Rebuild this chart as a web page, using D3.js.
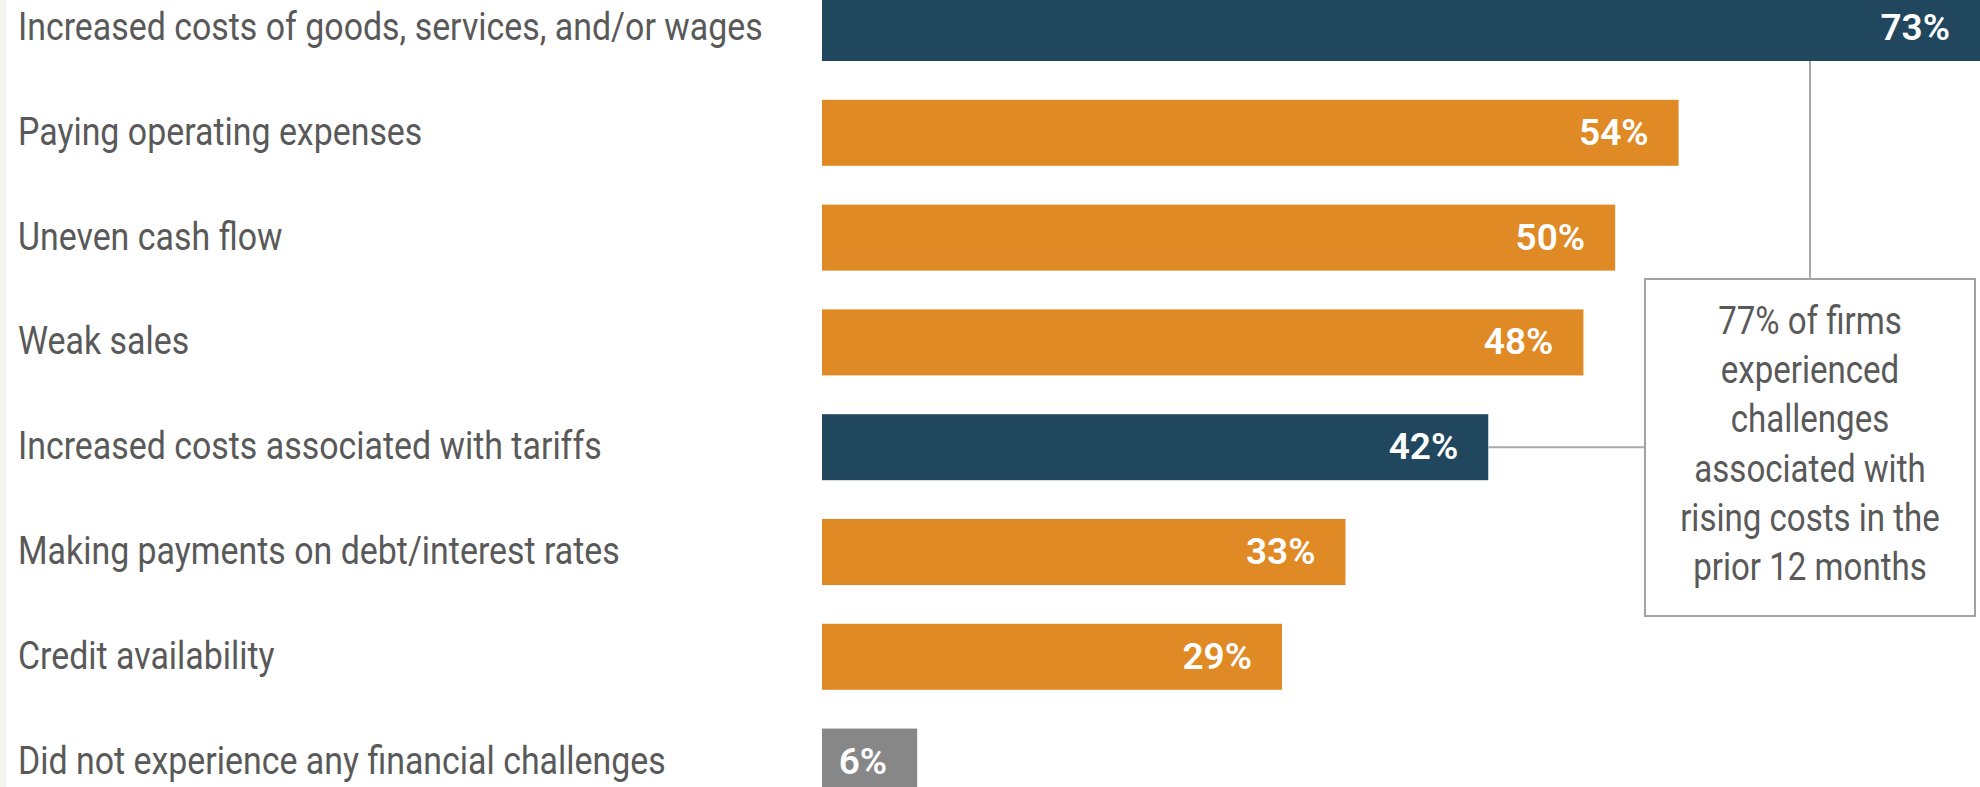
<!DOCTYPE html>
<html>
<head>
<meta charset="utf-8">
<script src="https://cdn.jsdelivr.net/npm/d3@7"></script>
<style>
  html, body { margin: 0; padding: 0; background: #ffffff; }
  svg { display: block; }
</style>
</head>
<body>
<svg id="chart" width="1980" height="787"></svg>
<script>
// Financial challenges reported by firms (share of respondents, %)
const categories = [
  "Increased costs of goods, services, and/or wages",
  "Paying operating expenses",
  "Uneven cash flow",
  "Weak sales",
  "Increased costs associated with tariffs",
  "Making payments on debt/interest rates",
  "Credit availability",
  "Did not experience any financial challenges"
];
const values = [73, 54, 50, 48, 42, 33, 29, 6];
// cost-related challenges are highlighted
const groups = ["cost", "other", "other", "other", "cost", "other", "other", "none"];
const noteLines = [
  "77% of firms",
  "experienced",
  "challenges",
  "associated with",
  "rising costs in the",
  "prior 12 months"
];

const W = 1980, H = 787;
const svg = d3.select("#chart");

const color = d3.scaleOrdinal()
  .domain(["cost", "other", "none"])
  .range(["#20475e", "#e08a26", "#878787"]);

const x = d3.scaleLinear()
  .domain([0, d3.max(values)])
  .range([822, W]);

const y = d3.scaleBand()
  .domain(categories)
  .range([-5, 794.6])
  .paddingInner(0.37)
  .paddingOuter(0);

const bw = y.bandwidth();
const rows = categories.map((c, i) => ({ c, v: values[i], g: groups[i] }));

// thin tinted strip along the left edge
svg.append("rect")
  .attr("x", 0).attr("y", 0)
  .attr("width", 6).attr("height", H)
  .attr("fill", "#f7f5ef");

// category labels (condensed)
svg.append("g")
  .selectAll("g")
  .data(rows)
  .join("g")
  .attr("transform", d => `translate(18,${y(d.c) + bw / 2 + 12}) scale(0.892,1)`)
  .append("text")
  .attr("font-family", "Roboto, 'Noto Sans', sans-serif")
  .attr("font-size", 38)
  .attr("fill", "#595959")
  .text(d => d.c);

// bars
svg.append("g")
  .selectAll("rect")
  .data(rows)
  .join("rect")
  .attr("x", x(0))
  .attr("y", d => y(d.c))
  .attr("width", d => x(d.v) - x(0))
  .attr("height", bw)
  .attr("fill", d => color(d.g));

// value labels inside bar ends
svg.append("g")
  .selectAll("text")
  .data(rows)
  .join("text")
  .attr("x", d => x(d.v) - 30)
  .attr("y", d => y(d.c) + bw / 2 + 12)
  .attr("text-anchor", "end")
  .attr("font-family", "Roboto, 'Noto Sans', sans-serif")
  .attr("font-weight", 600)
  .attr("font-size", 37)
  .attr("fill", "#ffffff")
  .text(d => d.v + "%");

// callout box and its connectors to the two cost bars
const box = { x: 1645, y: 279, w: 330, h: 337 };
const boxCx = box.x + box.w / 2;
const topRow = rows[0];
const tariffRow = rows[4];

const conn = svg.append("g")
  .attr("stroke", "#a9a9a9")
  .attr("stroke-width", 2)
  .attr("fill", "none");

conn.append("line")
  .attr("x1", boxCx).attr("x2", boxCx)
  .attr("y1", y(topRow.c) + bw)
  .attr("y2", box.y);

conn.append("line")
  .attr("x1", x(tariffRow.v)).attr("x2", box.x)
  .attr("y1", y(tariffRow.c) + bw / 2)
  .attr("y2", y(tariffRow.c) + bw / 2);

svg.append("rect")
  .attr("x", box.x).attr("y", box.y)
  .attr("width", box.w).attr("height", box.h)
  .attr("fill", "#ffffff")
  .attr("stroke", "#a3a3a3")
  .attr("stroke-width", 2);

svg.append("g")
  .selectAll("g")
  .data(noteLines)
  .join("g")
  .attr("transform", (d, i) => `translate(${boxCx},${box.y + 55 + i * 49.2}) scale(0.87,1)`)
  .append("text")
  .attr("text-anchor", "middle")
  .attr("font-family", "Roboto, 'Noto Sans', sans-serif")
  .attr("font-size", 38)
  .attr("fill", "#595959")
  .text(d => d);
</script>
</body>
</html>
